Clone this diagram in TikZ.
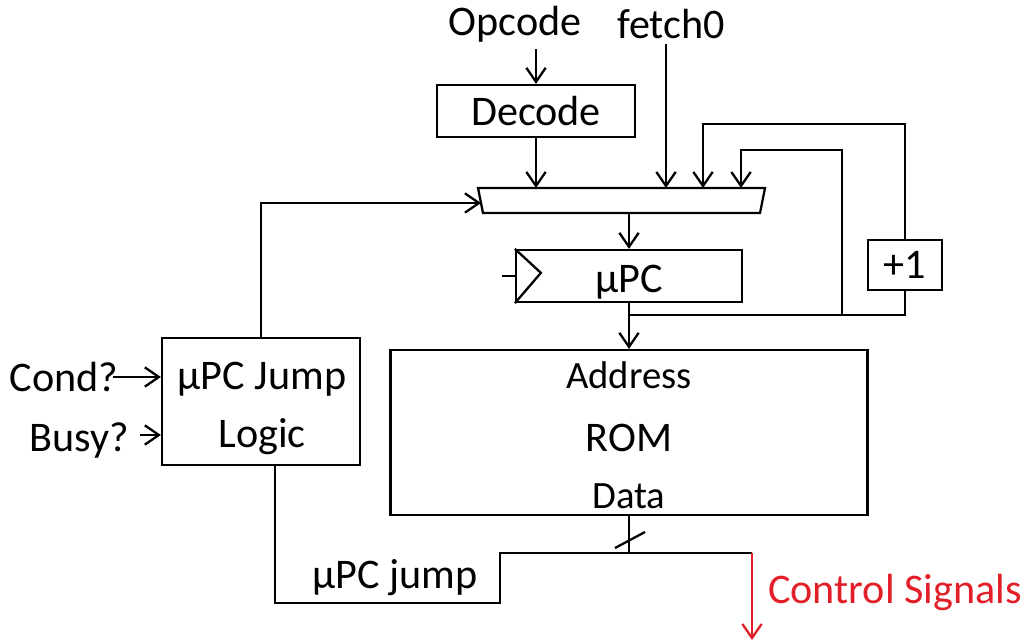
\documentclass[tikz,border=0pt]{standalone}
\usepackage{fontspec}
\setmainfont{Carlito}
\usepackage{xcolor}
\usetikzlibrary{arrows.meta}
\definecolor{sigred}{RGB}{226,30,40}

\begin{document}
\begin{tikzpicture}[x=0.02cm, y=-0.02cm, line width=1.3pt, >={Straight Barb[length=8pt,width=11pt]}]
   \tikzstyle{blk}=[draw, rectangle, inner sep=0pt, font=\fontsize{24}{27}\selectfont]
   \tikzstyle{lbl}=[inner sep=0pt, font=\fontsize{24}{27}\selectfont]
   \useasboundingbox (0,0) rectangle (1026,642);
   %% labels
\node[lbl] (op) at (515,24) {Opcode};
\node[lbl] (f0) at (671,24) {fetch0};
\node[lbl] (cond) at (64,377) {Cond?};
\node[lbl] (busy) at (79,440) {Busy?};
\node[lbl] (jmp) at (395,578) {µPC jump};
\node[lbl, text=sigred] (cs) at (895,592) {Control Signals};
%% blocks
\node[blk, minimum width=3.96cm, minimum height=1.04cm] (dec) at (536,111) {Decode};
\node[blk, minimum width=4.52cm, minimum height=1.04cm] (pc) at (629,276) {};
\node[lbl] (pct) at (629,282) {µPC};
\node[blk, minimum width=1.48cm, minimum height=1.0cm] (inc) at (905,265) {+1};
\node[blk, minimum width=3.96cm, minimum height=2.54cm] (jl) at (261,401.5) {};
\node[lbl, align=center, font=\fontsize{24}{33}\selectfont] (jlt) at (262,408) {µPC Jump\\Logic};
\node[blk, minimum width=9.54cm, minimum height=3.3cm] (rom) at (629,432.5) {};
\node[lbl, font=\fontsize{22}{26}\selectfont] (addr) at (629,375) {Address};
\node[lbl] (romt) at (629,438) {ROM};
\node[lbl, font=\fontsize{22}{26}\selectfont] (data) at (629,496) {Data};
%% mux
\coordinate (mtl) at (478,188);
\coordinate (mtr) at (765,188);
\coordinate (mbr) at (760,213);
\coordinate (mbl) at (483,213);
\draw (mtl) -- (mtr) -- (mbr) -- (mbl) -- cycle;
\coordinate (in2) at (703,188);
\coordinate (in3) at (741,188);
\coordinate (min) at (481,203);
\coordinate (mout) at (629,213);
%% clock
\draw (pc.north west) -- ++(26,24) -- (pc.south west);
\draw (pc.west) -- ++(-13,0);
%% wires
\draw[->] (dec.north |- op.south) ++(0,6) -- (dec.north);
\draw[->] (dec.south) -- (dec.south |- mtl);
\draw[->] ([xshift=-0.1cm]f0.south) ++(0,4) -- ([xshift=-0.1cm]f0.south |- mtl);
\draw[->] (inc.north) -- ++(0,-115) -| (in2);
\coordinate (jn) at (629,315);
\coordinate (tap) at (842,315);
\draw (jn) -| (inc.south);
\draw[->] (tap) -- ++(0,-165) -| (in3);
\draw[->] (mout) -- (pc.north);
\draw[->] (pc.south) -- (rom.north);
\draw[->] (jl.north) |- (min);
\draw[->] ([xshift=-0.12cm]cond.east) -- (cond.east -| jl.west);
\draw[->] ([xshift=0.2cm, yshift=0.1cm]busy.east) -- ([yshift=0.1cm]busy.east -| jl.west);
%% outputs
\coordinate (dj) at (629,553);
\coordinate (cj) at (752,553);
\draw (rom.south) -- (dj);
\draw (615,548) -- (645,532);
\draw ([xshift=0.28cm]jl.south) |- (500,603) |- (cj);
\draw[->, sigred] (cj) -- (752,640);
    \end{tikzpicture}
\end{document}
